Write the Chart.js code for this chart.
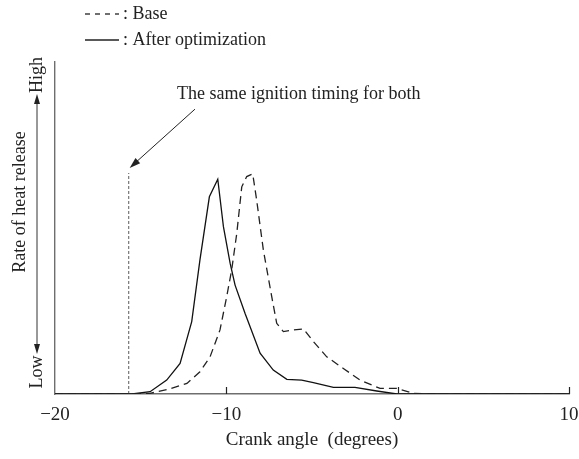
<!DOCTYPE html>
<html>
<head>
<meta charset="utf-8">
<title>Rate of heat release</title>
<script src="https://cdn.jsdelivr.net/npm/chart.js@4.4.1/dist/chart.umd.min.js"></script>
<style>
  html, body { margin: 0; padding: 0; background: #fff; }
  #wrap { width: 579px; height: 459px; position: relative; }
</style>
</head>
<body>
<div id="wrap"><canvas id="hrrChart" width="579" height="459"></canvas></div>
<script>
// Crank angle (deg) vs. relative heat release rate (0..100, arbitrary units)
const baseAngle = [-20, -15.5, -14.45, -13.4, -12.3, -11.54, -10.95, -10.37, -9.98, -9.69, -9.39, -9.1, -8.81, -8.46, -8.23, -7.84, -7.35, -7.06, -6.67, -6.09, -5.5, -4.92, -4.14, -3.17, -2.2, -1.03, -0.05, 0.92, 1.9, 10];
const baseRate  = [0, 0, 0.2, 1.4, 3.2, 6.7, 11.2, 19.3, 29.3, 37.3, 48.4, 62.4, 65.5, 66.3, 58.4, 43.4, 29.3, 21.3, 18.8, 19.3, 19.6, 15.8, 11.2, 7.7, 4.2, 1.7, 1.7, 0.2, 0, 0];

const optAngle = [-20, -15.5, -14.45, -13.48, -12.7, -12.02, -11.54, -10.99, -10.5, -10.17, -9.78, -9.49, -8.91, -8.03, -7.26, -6.47, -5.6, -4.92, -3.75, -2.49, -1.22, -0.05, 10];
const optRate  = [0, 0, 0.7, 4.2, 9.2, 21.8, 40.4, 59.4, 64.7, 50.4, 39.4, 32.8, 24.3, 12.3, 7.2, 4.4, 4.2, 3.4, 2.0, 2.0, 0.9, 0, 0];

// ignition marker and annotation anchor
const ignitionAngle = -15.7;
const ignitionTop = 66.6;
const noteAnchor = { x: -11.83, y: 85.8 };

const tickValues = [-20, -10, 0, 10];
const tickLabels = ['\u221220', '\u221210', '0', '10'];

const SERIF = '"Liberation Serif", "Times New Roman", serif';
const AXIS_GREY = '#6e6e6e';
const FONT_SIZE = 18;
const AXIS_FONT_SIZE = 19;

function toPoints(xs, ys){
  return xs.map((x, i) => ({ x: x, y: ys[i] }));
}

function arrowHead(ctx, x1, y1, x2, y2, len, half){
  const a = Math.atan2(y2 - y1, x2 - x1);
  ctx.beginPath();
  ctx.moveTo(x2, y2);
  ctx.lineTo(x2 - len * Math.cos(a) + half * Math.sin(a), y2 - len * Math.sin(a) - half * Math.cos(a));
  ctx.lineTo(x2 - len * Math.cos(a) - half * Math.sin(a), y2 - len * Math.sin(a) + half * Math.cos(a));
  ctx.closePath();
  ctx.fill();
}

function rotatedText(ctx, text, x, y){
  ctx.save();
  ctx.translate(x, y);
  ctx.rotate(-Math.PI / 2);
  ctx.textAlign = 'center';
  ctx.fillText(text, 0, 0);
  ctx.restore();
}

// legend, inward ticks, y-axis caption with arrows, ignition note
const decorations = {
  id: 'decorations',
  afterDraw(chart){
    const ctx = chart.ctx;
    const xs = chart.scales.x, ys = chart.scales.y;
    const area = chart.chartArea;
    ctx.save();

    // inward tick marks on the x axis
    ctx.strokeStyle = '#222';
    ctx.lineWidth = 1.2;
    tickValues.slice(1).forEach(v => {
      const px = Math.round(xs.getPixelForValue(v)) + 0.5;
      ctx.beginPath();
      ctx.moveTo(px, area.bottom);
      ctx.lineTo(px, area.bottom - 7);
      ctx.stroke();
    });

    // legend
    ctx.font = FONT_SIZE + 'px ' + SERIF;
    ctx.fillStyle = '#222';
    ctx.textBaseline = 'middle';
    ctx.textAlign = 'left';
    ctx.lineWidth = 1.3;
    ctx.strokeStyle = '#222';
    ctx.setLineDash([5, 5]);
    ctx.beginPath(); ctx.moveTo(85, 14); ctx.lineTo(119, 14); ctx.stroke();
    ctx.setLineDash([]);
    ctx.beginPath(); ctx.moveTo(85, 40); ctx.lineTo(119, 40); ctx.stroke();
    ctx.fillText(': Base', 123, 14);
    ctx.fillText(': After optimization', 123, 40);

    // note with arrow pointing at the ignition line
    ctx.fillText('The same ignition timing for both', 177, 94);
    const ax = xs.getPixelForValue(noteAnchor.x), ay = ys.getPixelForValue(noteAnchor.y);
    const bx = xs.getPixelForValue(ignitionAngle) + 1, by = ys.getPixelForValue(ignitionTop) - 5;
    ctx.lineWidth = 1;
    ctx.beginPath(); ctx.moveTo(ax, ay); ctx.lineTo(bx + 5, by - 4.5); ctx.stroke();
    arrowHead(ctx, ax, ay, bx, by, 11, 3.5);

    // y-axis caption with a double arrow between Low and High
    const cx = 37;
    ctx.strokeStyle = '#333';
    ctx.lineWidth = 1;
    ctx.beginPath(); ctx.moveTo(cx, 100); ctx.lineTo(cx, 348); ctx.stroke();
    arrowHead(ctx, cx, 140, cx, 94, 10, 3);
    arrowHead(ctx, cx, 300, cx, 354, 10, 3);

    rotatedText(ctx, 'High', cx, 75);
    rotatedText(ctx, 'Low', cx, 372);
    rotatedText(ctx, 'Rate of heat release', 20, 202);

    ctx.restore();
  }
};

function init(){
  const ctx = document.getElementById('hrrChart').getContext('2d');
  new Chart(ctx, {
    type: 'line',
    data: {
      datasets: [
        {
          label: 'Base',
          data: toPoints(baseAngle, baseRate),
          borderColor: '#222',
          borderWidth: 1.3,
          borderDash: [8, 5],
          pointRadius: 0,
          tension: 0,
          fill: false
        },
        {
          label: 'After optimization',
          data: toPoints(optAngle, optRate),
          borderColor: '#111',
          borderWidth: 1.3,
          pointRadius: 0,
          tension: 0,
          fill: false
        },
        {
          label: 'Ignition',
          data: [{ x: ignitionAngle, y: 0 }, { x: ignitionAngle, y: ignitionTop }],
          borderColor: '#777',
          borderWidth: 1.2,
          borderDash: [3, 2],
          pointRadius: 0,
          fill: false
        }
      ]
    },
    options: {
      responsive: false,
      animation: false,
      devicePixelRatio: 1,
      layout: { padding: { left: 55, right: 10, top: 62, bottom: 0 } },
      plugins: {
        legend: { display: false },
        tooltip: { enabled: false }
      },
      scales: {
        x: {
          type: 'linear',
          min: -20,
          max: 10,
          afterBuildTicks: s => { s.ticks = tickValues.map(v => ({ value: v })); },
          afterFit: s => { s.height = 65; s.paddingLeft = 0; s.paddingRight = 0; },
          grid: { display: false, drawTicks: false },
          border: { display: true, color: AXIS_GREY, width: 1.6 },
          ticks: {
            padding: 10,
            color: '#222',
            font: { family: SERIF, size: AXIS_FONT_SIZE },
            maxRotation: 0,
            callback: v => tickLabels[tickValues.indexOf(v)]
          },
          title: {
            display: true,
            text: 'Crank angle  (degrees)',
            color: '#222',
            font: { family: SERIF, size: AXIS_FONT_SIZE },
            padding: { top: 4, bottom: 8 }
          }
        },
        y: {
          type: 'linear',
          min: 0,
          max: 100,
          afterFit: s => { s.width = 0; },
          grid: { display: false, drawTicks: false },
          border: { display: true, color: AXIS_GREY, width: 1.4 },
          ticks: { display: false }
        }
      }
    },
    plugins: [decorations]
  });
}

document.addEventListener('DOMContentLoaded', init);
</script>
</body>
</html>
